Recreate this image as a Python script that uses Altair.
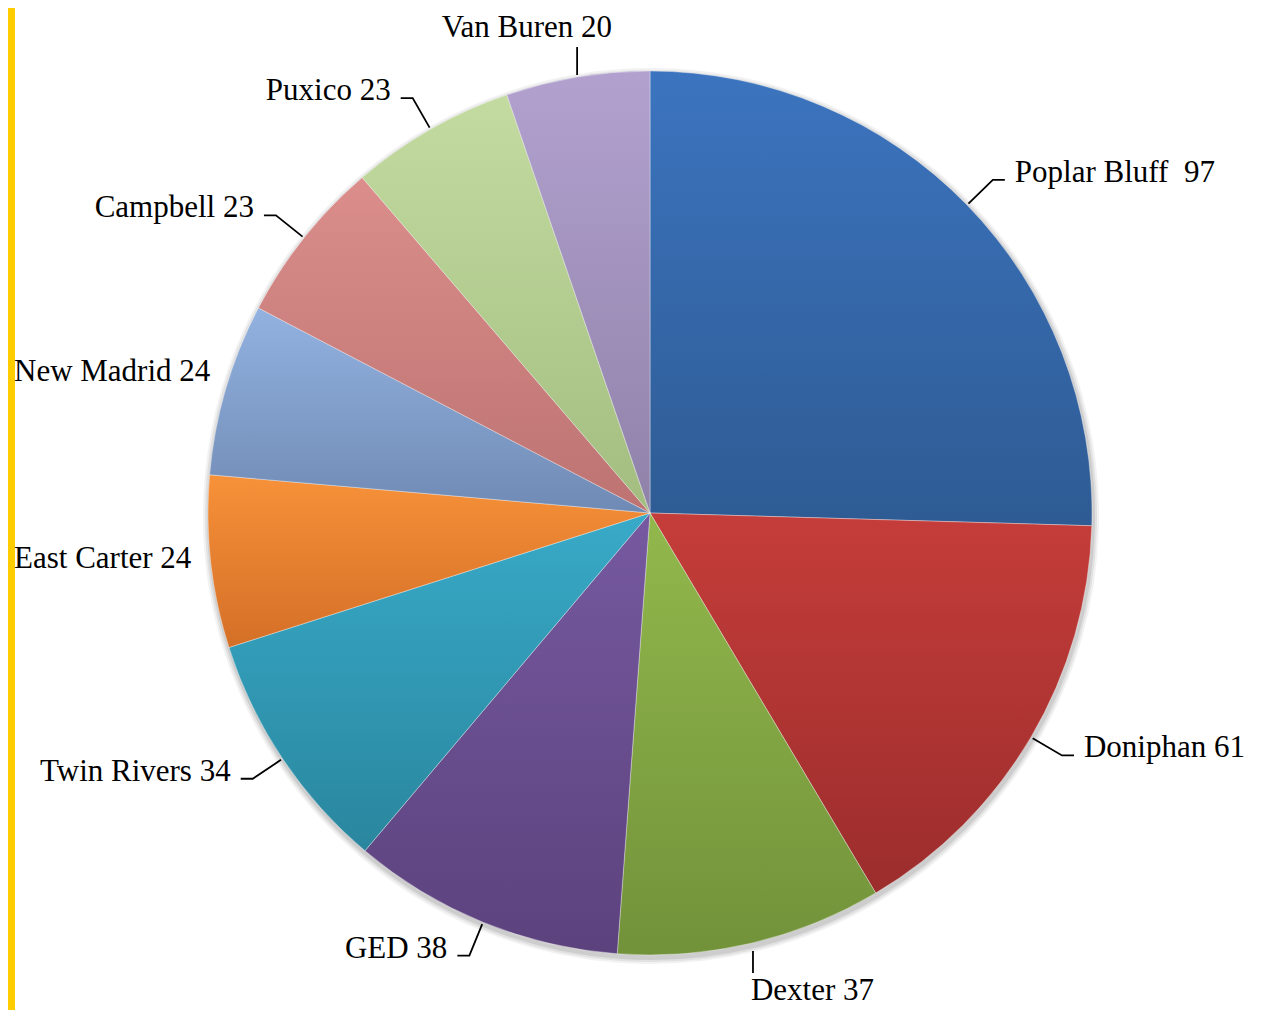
import math
import altair as alt
import pandas as pd

# ---- data ----
names = ["Poplar Bluff", "Doniphan", "Dexter", "GED", "Twin Rivers",
         "East Carter", "New Madrid", "Campbell", "Puxico", "Van Buren"]
values = [97, 61, 37, 38, 34, 24, 24, 23, 23, 20]
separators = ["\u00a0 ", " ", " ", " ", " ", " ", " ", " ", " ", " "]

# ---- styles ----
top_colors = ["#3c74bf", "#c53d3a", "#92b84c", "#7659a0", "#38aac8",
              "#f79139", "#93b2e0", "#db8e8c", "#c3dba0", "#b2a1cf"]
bottom_colors = ["#2e5b93", "#9b2d2c", "#72923a", "#5c427d", "#2a869e",
                 "#d46f27", "#6f8ab4", "#bc7371", "#a3bd80", "#8f82a9"]

W, H = 1250, 1002
CX, CY, R = 642, 505, 442
GAP = 36
FONT = "Liberation Serif"
FS = 31

# approximate Times glyph widths (1/1000 em) for label fitting
GW = {"A": 722, "B": 667, "C": 667, "D": 722, "E": 611, "G": 722, "M": 889,
      "N": 722, "P": 556, "R": 667, "T": 611, "V": 722, "a": 444, "b": 500,
      "c": 444, "d": 500, "e": 444, "f": 333, "h": 500, "i": 278, "l": 278,
      "m": 778, "n": 500, "o": 500, "p": 500, "r": 333, "s": 389, "t": 278,
      "u": 500, "v": 500, "w": 722, "x": 500, " ": 250, "\u00a0": 250}


def text_width(s):
    return sum(GW.get(ch, 500) for ch in s) / 1000.0 * FS


total = float(sum(values))
slice_rows, line_rows, text_rows = [], [], []
cum = 0.0
for i, (n, v) in enumerate(zip(names, values)):
    t0, t1 = cum, cum + v
    cum = t1
    slice_rows.append({"name": n, "t0": t0, "t1": t1})
    label = f"{n}{separators[i]}{v}"
    m = 2 * math.pi * (t0 + v / 2.0) / total
    s, c = math.sin(m), math.cos(m)
    tw = text_width(label)
    if abs(s) >= 0.3:
        side = 1 if s > 0 else -1
        ex, ey = CX + (R + 2) * s, CY - (R + 2) * c
        ax, ay = CX + (R + GAP) * s, CY - (R + GAP) * c
        hx = ax + side * 12
        tx = hx + side * 10
        if side < 0 and tx - tw < 6:
            tx = 6 + tw
            hx = tx + 10
            ax = hx + 12
        if side > 0 and tx + tw > W - 4:
            tx = W - 4 - tw
            hx = tx - 10
            ax = hx - 12
        inside = math.hypot(ax - CX, ay - CY) < R + 4
        if not inside:
            for k, (px, py) in enumerate([(ex, ey), (ax, ay), (hx, ay)]):
                line_rows.append({"label": label, "k": k, "px": px, "py": py})
        text_rows.append({"label": label, "tx": tx, "ty": ay + 2,
                          "align": "left" if side > 0 else "right"})
    else:
        if c > 0:  # top
            x0 = CX + (R + 2) * s
            y0 = CY - (R + 2) * c
            y1 = y0 - 28
            ty = y1 - 10
        else:  # bottom
            x0 = CX + (R + 8) * s
            y0 = CY - (R + 8) * c
            y1 = y0 + 22
            ty = y1 + 27
        for k, py in enumerate([y0, y1]):
            line_rows.append({"label": label, "k": k, "px": x0, "py": py})
        if s > 0:
            text_rows.append({"label": label, "tx": x0 - 2, "ty": ty, "align": "left"})
        else:
            text_rows.append({"label": label, "tx": x0 + 35, "ty": ty, "align": "right"})

slices = pd.DataFrame(slice_rows)
lines = pd.DataFrame(line_rows)
texts = pd.DataFrame(text_rows)

theta_scale = alt.Scale(domain=[0, total], range=[0, 2 * math.pi])
xs = alt.Scale(domain=[0, W], nice=False, zero=False)
ys = alt.Scale(domain=[0, H], nice=False, zero=False, reverse=True)

layers = []

# yellow strip at the left edge
layers.append(
    alt.Chart(pd.DataFrame({"a": [0]})).mark_rect(color="#FFCC00").encode(
        x=alt.value(0), x2=alt.value(7), y=alt.value(0), y2=alt.value(H)
    )
)

# soft shadow under the pie
for dr, op in [(6, 0.10), (4, 0.14), (2, 0.2)]:
    layers.append(
        alt.Chart(slices)
        .mark_arc(radius=R + dr, color="#7f7f7f", opacity=op)
        .encode(
            theta=alt.Theta("t0:Q", scale=theta_scale),
            theta2="t1:Q",
            x=alt.value(CX + 1),
            y=alt.value(CY + 3),
        )
    )

for i, n in enumerate(names):
    grad = alt.LinearGradient(
        gradient="linear",
        stops=[alt.GradientStop(color=top_colors[i], offset=0),
               alt.GradientStop(color=bottom_colors[i], offset=1)],
        x1=0, x2=0, y1=0, y2=1,
    )
    layers.append(
        alt.Chart(slices)
        .transform_filter(alt.datum.name == n)
        .mark_arc(radius=R, color=grad, stroke="#ffffff", strokeOpacity=0.35,
                  strokeWidth=1)
        .encode(
            theta=alt.Theta("t0:Q", scale=theta_scale),
            theta2="t1:Q",
            x=alt.value(CX),
            y=alt.value(CY),
        )
    )

layers.append(
    alt.Chart(lines).mark_line(color="black", strokeWidth=1.8).encode(
        x=alt.X("px:Q", scale=xs, axis=None),
        y=alt.Y("py:Q", scale=ys, axis=None),
        detail="label:N",
        order="k:Q",
    )
)

for al in ["left", "right"]:
    layers.append(
        alt.Chart(texts)
        .transform_filter(alt.datum.align == al)
        .mark_text(align=al, baseline="alphabetic", font=FONT, fontSize=FS,
                   color="black")
        .encode(
            x=alt.X("tx:Q", scale=xs, axis=None),
            y=alt.Y("ty:Q", scale=ys, axis=None),
            text="label:N",
        )
    )

chart = (
    alt.layer(*layers)
    .properties(width=W, height=H, padding=0,
                autosize=alt.AutoSizeParams(type="none"), background="white")
    .configure_view(stroke=None)
)

chart.save("out.html", embed_options={"renderer": "svg", "actions": False})
